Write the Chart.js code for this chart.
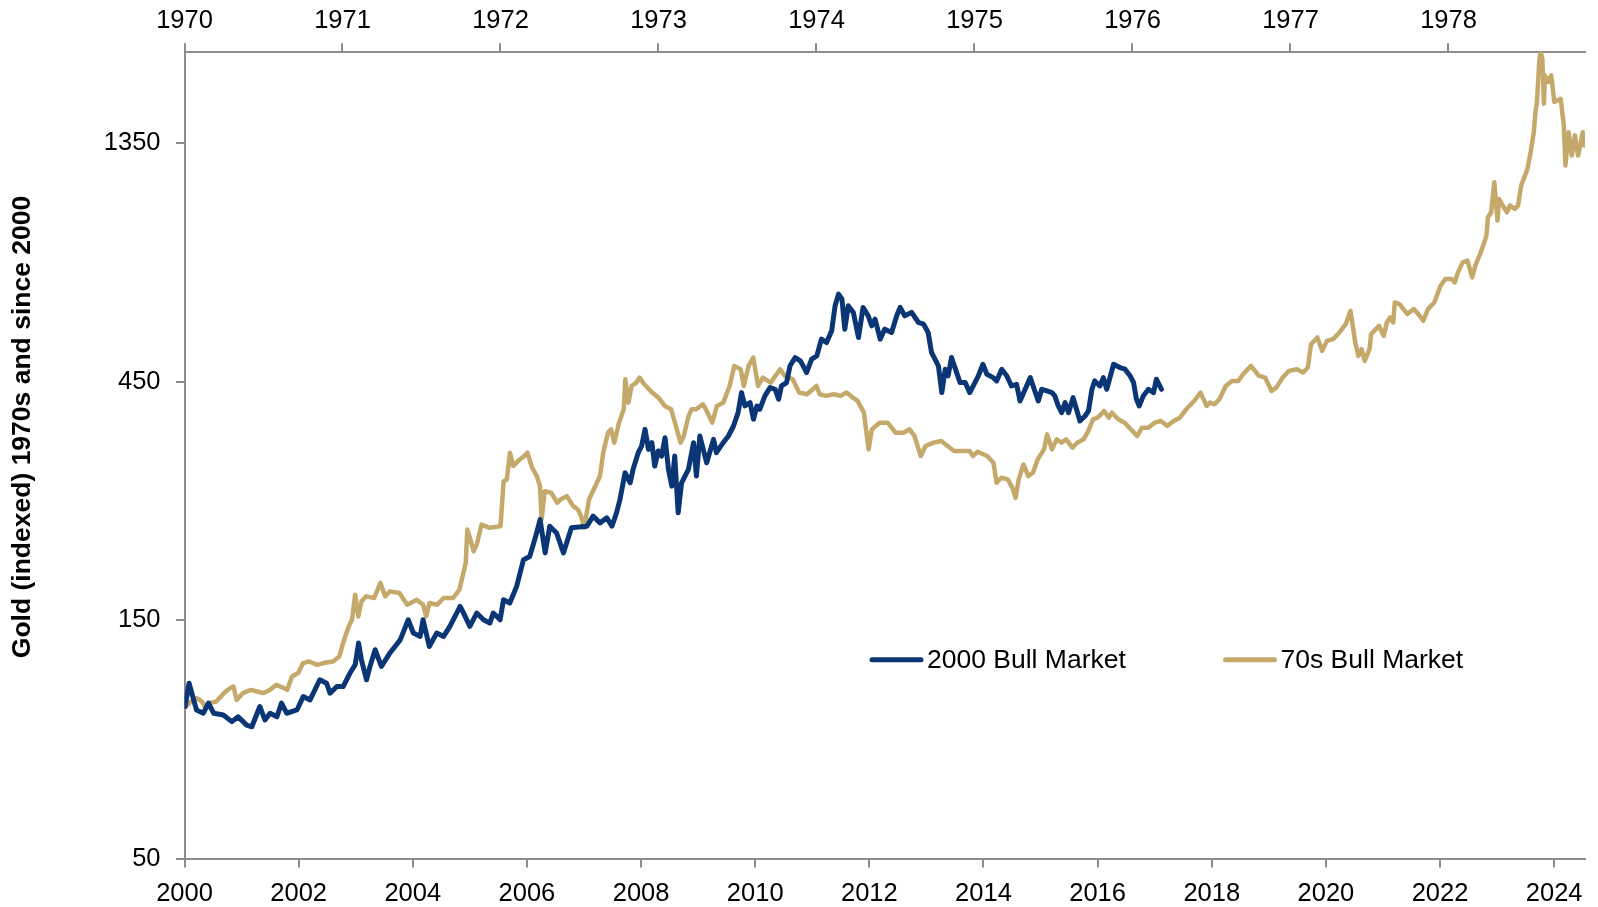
<!DOCTYPE html>
<html>
<head>
<meta charset="utf-8">
<script src="https://cdn.jsdelivr.net/npm/chart.js@4.4.1/dist/chart.umd.min.js"></script>
<style>
html,body{margin:0;padding:0;background:#ffffff;}
#wrap{width:1598px;height:907px;position:relative;}
</style>
</head>
<body>
<div id="wrap"><canvas id="c" width="1598" height="907"></canvas></div>
<script>
const FONT = "'Liberation Sans', Arial, Helvetica, sans-serif";

const seriesLabels = ['2000 Bull Market', '70s Bull Market'];
const yAxisTitle = 'Gold (indexed) 1970s and since 2000';
const bottomTicks = [2000, 2002, 2004, 2006, 2008, 2010, 2012, 2014, 2016, 2018, 2020, 2022, 2024];
const topTicks = [1970, 1971, 1972, 1973, 1974, 1975, 1976, 1977, 1978];
const yTicks = [50, 150, 450, 1350];

// [year (bottom axis), gold indexed]
const blue2000s = [
[2000.01,100.9],[2000.08,112.3],[2000.21,99.3],[2000.33,97.8],[2000.42,102.5],[2000.51,97.8],[2000.68,97.0],[2000.83,94.1],[2000.94,96.2],[2001.09,92.6],
[2001.18,91.9],[2001.32,100.9],[2001.41,94.8],[2001.50,97.8],[2001.62,96.2],[2001.70,102.5],[2001.79,97.8],[2001.97,99.3],[2002.08,105.6],[2002.20,104.0],
[2002.37,114.1],[2002.49,112.3],[2002.55,107.3],[2002.67,110.6],[2002.78,110.6],[2002.90,117.7],[2002.99,122.2],[2003.05,135.1],[2003.10,125.1],[2003.19,114.1],
[2003.25,121.3],[2003.34,131.0],[2003.45,121.3],[2003.60,129.1],[2003.78,137.1],[2003.92,150.4],[2004.01,141.5],[2004.13,139.3],[2004.18,150.4],[2004.29,133.0],
[2004.42,141.5],[2004.54,139.3],[2004.65,145.9],[2004.83,159.9],[2004.89,155.1],[2005.00,145.9],[2005.12,155.1],[2005.24,150.4],[2005.35,148.1],[2005.41,155.1],
[2005.53,150.4],[2005.59,164.9],[2005.70,162.4],[2005.82,175.4],[2005.94,198.3],[2006.05,201.3],[2006.17,224.2],[2006.23,238.6],[2006.32,204.6],[2006.40,231.3],
[2006.52,224.2],[2006.64,204.6],[2006.78,229.6],[2007.05,231.3],[2007.16,242.3],[2007.28,234.9],[2007.40,240.4],[2007.49,231.3],[2007.57,246.0],[2007.63,261.6],
[2007.72,295.9],[2007.81,282.5],[2007.86,300.5],[2007.95,324.5],[2008.01,334.6],[2008.07,361.3],[2008.13,329.5],[2008.19,339.8],[2008.24,305.1],[2008.30,327.0],
[2008.36,319.5],[2008.42,347.7],[2008.48,300.5],[2008.54,278.2],[2008.59,319.5],[2008.65,246.0],[2008.71,282.5],[2008.77,291.4],[2008.83,300.5],[2008.92,339.8],
[2008.97,291.4],[2009.03,350.4],[2009.15,309.8],[2009.27,345.0],[2009.32,324.5],[2009.44,339.8],[2009.53,350.4],[2009.62,366.9],[2009.70,390.2],[2009.76,427.9],
[2009.82,402.4],[2009.91,408.6],[2009.97,378.4],[2010.03,402.4],[2010.08,396.2],[2010.17,421.4],[2010.26,437.9],[2010.35,434.5],[2010.41,414.9],[2010.46,441.2],
[2010.55,448.1],[2010.61,483.9],[2010.70,502.8],[2010.79,495.2],[2010.84,483.9],[2010.90,469.2],[2010.99,499.0],[2011.08,506.7],[2011.16,547.2],[2011.25,538.8],
[2011.34,568.6],[2011.40,638.1],[2011.46,673.4],[2011.52,658.0],[2011.57,573.0],[2011.63,638.1],[2011.72,618.9],[2011.81,551.4],[2011.89,633.3],[2011.98,609.4],
[2012.04,581.9],[2012.10,600.1],[2012.19,547.2],[2012.27,573.0],[2012.39,564.3],[2012.48,609.4],[2012.54,633.3],[2012.62,609.4],[2012.74,618.9],[2012.86,590.9],
[2012.95,586.4],[2013.03,564.3],[2013.09,514.6],[2013.15,499.0],[2013.21,483.9],[2013.27,427.9],[2013.33,476.5],[2013.38,462.1],[2013.44,502.8],[2013.53,469.2],
[2013.59,448.1],[2013.68,448.1],[2013.76,427.9],[2013.85,448.1],[2013.91,462.0],[2013.99,487.6],[2014.06,465.6],[2014.17,458.5],[2014.23,451.5],[2014.32,476.5],
[2014.41,462.0],[2014.49,441.2],[2014.58,444.6],[2014.64,411.7],[2014.73,434.5],[2014.82,458.5],[2014.87,441.2],[2014.96,411.7],[2015.02,434.5],[2015.11,431.1],
[2015.20,427.9],[2015.25,421.4],[2015.31,402.4],[2015.37,390.1],[2015.43,408.6],[2015.49,390.1],[2015.57,418.1],[2015.63,396.2],[2015.69,375.4],[2015.78,384.2],
[2015.84,393.2],[2015.90,434.5],[2015.95,451.5],[2016.04,441.2],[2016.10,458.5],[2016.16,434.5],[2016.28,487.6],[2016.39,480.2],[2016.48,476.5],[2016.57,462.0],
[2016.63,448.1],[2016.68,414.9],[2016.73,402.4],[2016.80,421.4],[2016.89,434.5],[2016.98,427.9],[2017.03,455.0],[2017.12,434.5]
];

// [year (top axis), gold indexed]
const gold1970s = [
[1970.00,100.1],[1970.04,103.2],[1970.08,104.8],[1970.11,103.2],[1970.13,100.9],[1970.16,102.5],[1970.20,103.2],[1970.25,107.3],[1970.29,109.8],[1970.31,110.6],
[1970.33,104.0],[1970.37,107.3],[1970.42,108.9],[1970.46,108.1],[1970.50,107.3],[1970.54,108.9],[1970.58,111.4],[1970.63,109.8],[1970.65,108.9],[1970.68,115.8],
[1970.72,117.7],[1970.75,123.2],[1970.79,124.1],[1970.84,122.2],[1970.88,123.2],[1970.94,124.1],[1970.98,127.0],[1971.01,137.1],[1971.04,145.9],[1971.06,150.4],
[1971.08,168.8],[1971.10,152.7],[1971.12,163.7],[1971.15,167.5],[1971.20,166.2],[1971.24,178.2],[1971.27,167.5],[1971.30,171.4],[1971.36,170.1],[1971.41,161.2],
[1971.47,164.9],[1971.51,161.2],[1971.53,152.7],[1971.55,162.4],[1971.60,161.2],[1971.64,166.2],[1971.70,166.2],[1971.74,172.7],[1971.78,195.4],[1971.79,227.8],
[1971.81,217.5],[1971.83,206.1],[1971.85,212.6],[1971.88,233.1],[1971.93,229.6],[1972.00,231.3],[1972.02,284.7],[1972.04,286.9],[1972.06,324.5],[1972.08,305.1],
[1972.11,312.2],[1972.15,319.4],[1972.17,324.5],[1972.20,302.8],[1972.23,291.3],[1972.25,278.1],[1972.26,238.6],[1972.28,271.8],[1972.32,269.8],[1972.36,257.7],
[1972.38,261.6],[1972.42,265.7],[1972.46,253.7],[1972.49,249.8],[1972.51,242.3],[1972.53,229.6],[1972.56,261.6],[1972.59,274.0],[1972.63,291.4],[1972.65,324.5],
[1972.68,355.8],[1972.70,361.3],[1972.72,339.8],[1972.75,372.6],[1972.78,396.2],[1972.79,455.0],[1972.81,408.6],[1972.83,441.2],[1972.86,448.1],[1972.88,458.5],
[1972.91,444.6],[1972.96,427.9],[1973.00,418.1],[1973.04,402.4],[1973.08,396.2],[1973.11,366.9],[1973.14,339.8],[1973.16,350.4],[1973.19,384.2],[1973.21,396.2],
[1973.24,396.2],[1973.28,405.5],[1973.30,396.2],[1973.34,372.6],[1973.37,402.4],[1973.41,408.6],[1973.45,441.2],[1973.48,483.9],[1973.52,476.5],[1973.54,441.2],
[1973.57,483.9],[1973.60,502.8],[1973.63,441.2],[1973.66,458.5],[1973.71,448.1],[1973.74,462.1],[1973.77,476.5],[1973.80,462.1],[1973.85,455.0],[1973.89,427.9],
[1973.94,424.6],[1974.00,441.2],[1974.02,424.6],[1974.06,421.4],[1974.11,424.6],[1974.15,421.4],[1974.19,427.9],[1974.23,418.1],[1974.26,411.8],[1974.30,390.2],
[1974.33,329.5],[1974.35,361.3],[1974.40,372.6],[1974.45,372.6],[1974.50,355.8],[1974.55,355.8],[1974.59,361.3],[1974.62,350.4],[1974.66,319.5],[1974.69,334.6],
[1974.74,339.8],[1974.79,342.4],[1974.83,334.6],[1974.87,327.0],[1974.91,327.0],[1974.97,326.9],[1974.99,319.5],[1975.02,325.9],[1975.08,319.5],[1975.12,309.8],
[1975.14,282.5],[1975.17,289.1],[1975.21,286.9],[1975.24,276.1],[1975.26,263.6],[1975.28,286.9],[1975.31,307.4],[1975.34,291.3],[1975.37,295.9],[1975.40,314.6],
[1975.44,329.5],[1975.46,353.1],[1975.49,329.5],[1975.52,345.0],[1975.55,339.8],[1975.58,345.0],[1975.62,332.0],[1975.65,339.8],[1975.69,345.0],[1975.72,358.5],
[1975.75,378.4],[1975.78,381.3],[1975.82,393.2],[1975.85,381.3],[1975.87,390.1],[1975.91,378.4],[1975.95,372.6],[1975.98,364.1],[1976.03,350.4],[1976.06,364.1],
[1976.10,364.1],[1976.14,372.6],[1976.18,375.4],[1976.22,366.9],[1976.26,375.4],[1976.30,381.3],[1976.34,396.2],[1976.39,411.7],[1976.43,427.9],[1976.47,402.4],
[1976.49,408.6],[1976.52,405.5],[1976.55,414.9],[1976.59,441.2],[1976.63,451.5],[1976.67,451.5],[1976.70,465.6],[1976.75,483.8],[1976.80,462.0],[1976.84,458.5],
[1976.88,431.1],[1976.91,437.8],[1976.95,458.5],[1976.99,472.8],[1977.04,476.5],[1977.08,469.2],[1977.11,480.2],[1977.13,534.7],[1977.17,551.4],[1977.20,518.5],
[1977.23,543.0],[1977.27,547.2],[1977.31,564.3],[1977.35,586.4],[1977.38,623.6],[1977.41,538.8],[1977.43,506.7],[1977.45,522.5],[1977.47,495.2],[1977.50,522.5],
[1977.51,559.9],[1977.56,581.9],[1977.59,555.6],[1977.61,590.9],[1977.63,604.7],[1977.65,590.9],[1977.66,648.0],[1977.69,643.0],[1977.74,614.1],[1977.78,628.4],
[1977.81,614.1],[1977.84,595.5],[1977.87,628.4],[1977.91,648.0],[1977.95,699.8],[1977.98,721.6],[1978.02,721.6],[1978.04,710.6],[1978.06,744.2],[1978.09,779.3],
[1978.12,785.3],[1978.15,727.2],[1978.17,767.4],[1978.20,809.8],[1978.22,841.6],[1978.24,881.3],[1978.25,959.0],[1978.27,981.4],[1978.29,1127.0],[1978.31,944.4],
[1978.32,1043.6],[1978.35,1004.3],[1978.37,981.4],[1978.39,1012.0],[1978.42,996.6],[1978.44,1012.0],[1978.46,1109.7],[1978.50,1198.5],[1978.52,1294.2],[1978.54,1419.3],
[1978.55,1556.4],[1978.56,1629.9],[1978.575,1975.2],[1978.583,2052.5],[1978.594,1990.5],[1978.604,1617.5],[1978.61,1843.0],[1978.63,1787.6],[1978.65,1843.0],[1978.67,1630.0],
[1978.71,1655.0],[1978.73,1463.0],[1978.74,1217.0],[1978.76,1419.0],[1978.78,1274.0],[1978.80,1398.0],[1978.82,1274.0],[1978.83,1314.0],[1978.85,1419.0],[1978.86,1334.0]
];

const BLUE = '#0b3675';
const GOLD = '#c4a96b';
const AXIS_GREY = '#8c8c8c';

Chart.defaults.font.family = FONT;
Chart.defaults.font.size = 25.5;
Chart.defaults.color = '#000000';

const toXY = arr => arr.map(p => ({ x: p[0], y: p[1] }));

const insideLegend = {
  id: 'insideLegend',
  afterDraw(chart) {
    const { ctx, chartArea: a } = chart;
    const y = a.top + 608;
    const spots = [a.left + 685.5, a.left + 1039];
    chart.data.datasets.forEach((ds, i) => {
      const x = spots[i];
      ctx.save();
      ctx.strokeStyle = ds.borderColor;
      ctx.lineWidth = 5;
      ctx.lineCap = 'round';
      ctx.beginPath();
      ctx.moveTo(x + 2, y);
      ctx.lineTo(x + 51, y);
      ctx.stroke();
      ctx.fillStyle = '#000000';
      ctx.font = '26.5px ' + FONT;
      ctx.textAlign = 'left';
      ctx.textBaseline = 'middle';
      ctx.fillText(ds.label, x + 57, y + 1);
      ctx.restore();
    });
  }
};

const sideTitle = {
  id: 'sideTitle',
  afterDraw(chart) {
    const ctx = chart.ctx;
    ctx.save();
    ctx.translate(23, 427);
    ctx.rotate(-Math.PI / 2);
    ctx.font = 'bold 26.5px ' + FONT;
    ctx.fillStyle = '#000000';
    ctx.textAlign = 'center';
    ctx.textBaseline = 'middle';
    ctx.fillText(yAxisTitle, 0, 0);
    ctx.restore();
  }
};

function axisGrid() {
  return { display: true, drawOnChartArea: false, drawTicks: true, tickLength: 8.5, tickColor: AXIS_GREY, tickWidth: 2, color: AXIS_GREY, lineWidth: 2 };
}
function axisBorder() {
  return { display: true, color: AXIS_GREY, width: 2 };
}

new Chart(document.getElementById('c'), {
  type: 'line',
  data: {
    datasets: [
      { label: seriesLabels[0], data: toXY(blue2000s), xAxisID: 'x', yAxisID: 'y',
        borderColor: BLUE, backgroundColor: BLUE, borderWidth: 5, pointRadius: 0,
        tension: 0, fill: false, borderJoinStyle: 'round', borderCapStyle: 'round' },
      { label: seriesLabels[1], data: toXY(gold1970s), xAxisID: 'x2', yAxisID: 'y',
        borderColor: GOLD, backgroundColor: GOLD, borderWidth: 4.5, pointRadius: 0,
        tension: 0, fill: false, borderJoinStyle: 'round', borderCapStyle: 'round' }
    ]
  },
  options: {
    responsive: false,
    animation: false,
    layout: { padding: { left: 0, right: 13, top: 0, bottom: 0 } },
    plugins: { legend: { display: false }, tooltip: { enabled: false } },
    scales: {
      x: {
        type: 'linear', position: 'bottom', min: 2000, max: 2024.54,
        afterBuildTicks: s => { s.ticks = bottomTicks.map(v => ({ value: v })); },
        afterFit: s => { s.height = 48; },
        ticks: { callback: v => String(v), autoSkip: false, maxRotation: 0, minRotation: 0, padding: 11, color: '#000000' },
        grid: axisGrid(), border: axisBorder()
      },
      x2: {
        type: 'linear', position: 'top', min: 1970, max: 1978.864,
        afterBuildTicks: s => { s.ticks = topTicks.map(v => ({ value: v })); },
        afterFit: s => { s.height = 51.7; },
        ticks: { callback: v => String(v), autoSkip: false, maxRotation: 0, minRotation: 0, padding: 7, color: '#000000' },
        grid: axisGrid(), border: axisBorder()
      },
      y: {
        type: 'logarithmic', position: 'left', min: 50, max: 2055,
        afterBuildTicks: s => { s.ticks = yTicks.map(v => ({ value: v })); },
        afterFit: s => { s.width = 184.5; },
        ticks: { callback: v => String(v), autoSkip: false, padding: 15.5, color: '#000000' },
        grid: axisGrid(), border: axisBorder()
      }
    }
  },
  plugins: [insideLegend, sideTitle]
});
</script>
</body>
</html>
